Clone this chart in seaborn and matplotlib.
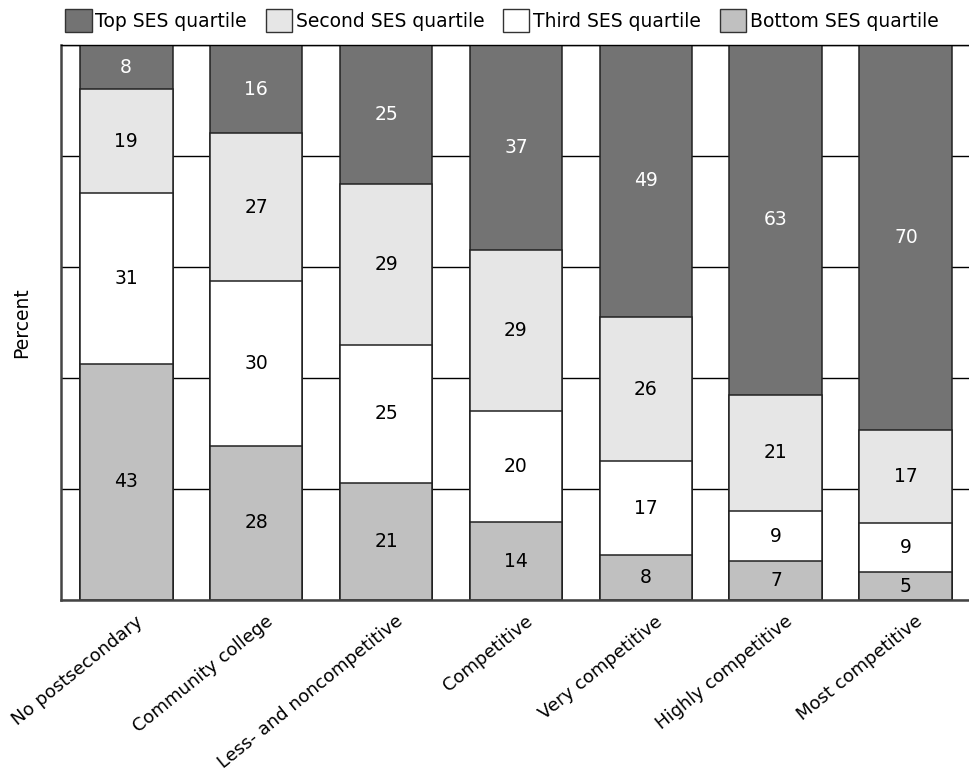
import numpy as np
import pandas as pd
import matplotlib
matplotlib.use("Agg")
import matplotlib.pyplot as plt
from matplotlib.patches import Patch
import matplotlib.transforms as mtransforms
import seaborn as sns

# --- data ---
categories = ["No postsecondary", "Community college", "Less- and noncompetitive",
              "Competitive", "Very competitive", "Highly competitive", "Most competitive"]
bottom_q = [43, 28, 21, 14, 8, 7, 5]
third_q = [31, 30, 25, 20, 17, 9, 9]
second_q = [19, 27, 29, 29, 26, 21, 17]
top_q = [8, 16, 25, 37, 49, 63, 70]

series_names = ["Bottom SES quartile", "Third SES quartile", "Second SES quartile", "Top SES quartile"]
series_colors = ["#c0c0c0", "#ffffff", "#e6e6e6", "#737373"]
text_colors = ["black", "black", "black", "white"]

df = pd.DataFrame({"category": categories, "Bottom SES quartile": bottom_q,
                   "Third SES quartile": third_q, "Second SES quartile": second_q,
                   "Top SES quartile": top_q})

# bars in the source fill to 100 even where rounded values add to 101
raw = df[series_names].to_numpy(dtype=float)
share = raw / raw.sum(axis=1, keepdims=True) * 100
cum = np.cumsum(share, axis=1)

sns.set_style("white", {"text.color": "black", "axes.labelcolor": "black",
                        "xtick.color": "black", "ytick.color": "black"})
plt.rcParams["font.family"] = ["DejaVu Sans"]
fs = 13.5

fig = plt.figure(figsize=(9.69, 7.77), dpi=100)
ax = fig.add_axes([0.063, 0.228, 0.939, 0.714])

# --- stacked bars: draw cumulative heights from tallest to shortest ---
for i in range(len(series_names) - 1, -1, -1):
    sns.barplot(x=df["category"], y=cum[:, i], color=series_colors[i], width=0.715,
                edgecolor="#222222", linewidth=1.1, saturation=1, ax=ax, zorder=2)

# --- value labels in the middle of each segment ---
for i, name in enumerate(series_names):
    lower = cum[:, i] - share[:, i]
    for j, val in enumerate(df[name]):
        ax.text(j, lower[j] + share[j, i] / 2, str(val), ha="center", va="center",
                fontsize=fs, color=text_colors[i], zorder=3)

ax.set_xlim(-0.5, 6.5)
ax.set_ylim(0, 100)
ax.set_yticks([0, 20, 40, 60, 80, 100])
ax.set_yticklabels([])
ax.yaxis.grid(True, color="black", linewidth=1)
ax.set_axisbelow(True)
ax.tick_params(axis="y", length=0)

ax.set_xticks(range(len(categories)))
ax.set_xticklabels(categories, rotation=39, ha="right", rotation_mode="anchor", fontsize=13)
ax.tick_params(axis="x", which="major", length=0, pad=9)
shift = mtransforms.ScaledTranslation(0.09, 0, fig.dpi_scale_trans)
for lab in ax.get_xticklabels():
    lab.set_transform(lab.get_transform() + shift)
ax.set_xticks(np.arange(0.5, 7, 1), minor=True)
ax.tick_params(axis="x", which="minor", length=11, width=1.2, color="#222222")
ax.set_xlabel("")
ax.set_ylabel("Percent", fontsize=fs, labelpad=18)

for side in ["left", "bottom"]:
    ax.spines[side].set_color("#444444")
    ax.spines[side].set_linewidth(1.8)
ax.spines["top"].set_color("black")
ax.spines["top"].set_linewidth(1)
ax.spines["right"].set_visible(False)

# --- legend across the top ---
handles = [Patch(facecolor=series_colors[i], edgecolor="#333333", linewidth=1, label=series_names[i])
           for i in [3, 2, 1, 0]]
fig.legend(handles=handles, loc="upper center", bbox_to_anchor=(0.518, 1.005), ncol=4,
           frameon=False, fontsize=fs, handlelength=1.4, handleheight=1.5,
           handletextpad=0.2, columnspacing=1.0, borderaxespad=0.3)

fig.savefig("out.png", dpi=100)
plt.close()
